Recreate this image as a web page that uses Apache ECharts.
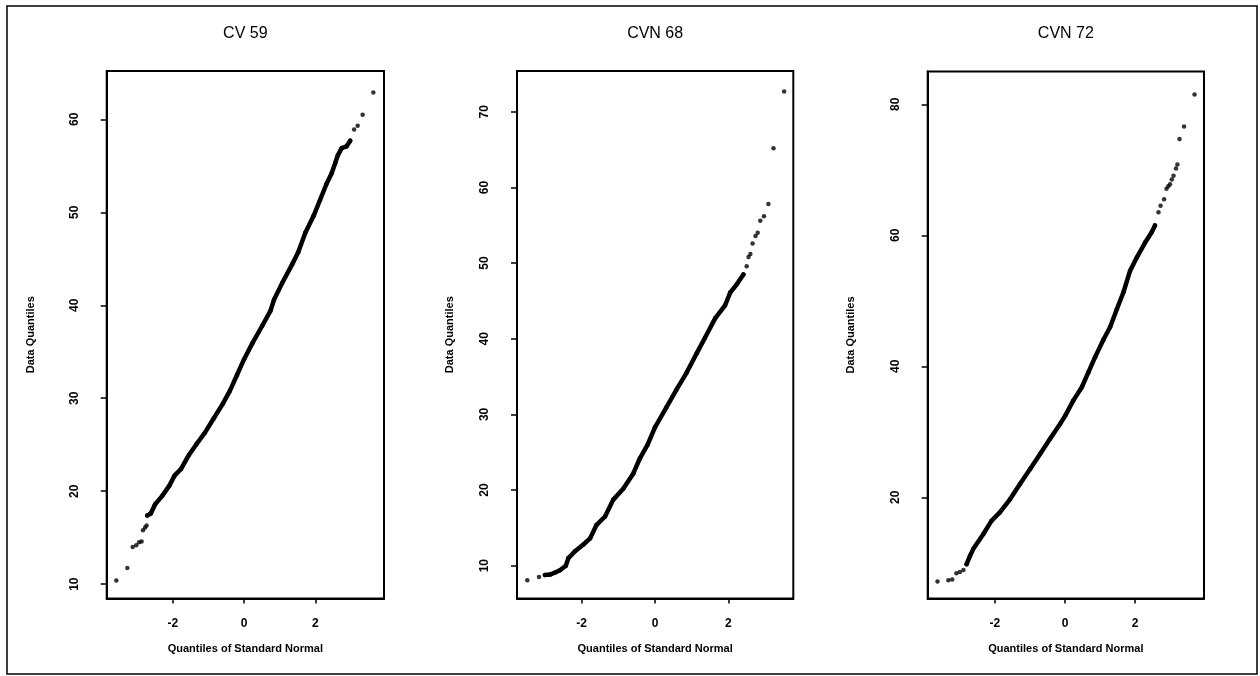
<!DOCTYPE html>
<html><head><meta charset="utf-8">
<script src="https://cdn.jsdelivr.net/npm/echarts@6/dist/echarts.min.js"></script>
<style>html,body{margin:0;padding:0;background:#fff}#c{width:1260px;height:676px}</style>
</head><body><div id="c"></div>
<script>
// ---- data ----
const titles = ['CV 59', 'CVN 68', 'CVN 72'];
const xName = 'Quantiles of Standard Normal';
const yName = 'Data Quantiles';
const xTicks = [-2, 0, 2];
const yTicks1 = [10, 20, 30, 40, 50, 60];
const yTicks2 = [10, 20, 30, 40, 50, 60, 70];
const yTicks3 = [20, 40, 60, 80];

// CV 59
const lowTail1 = [[-3.59,10.4],[-3.28,11.75],[-3.13,14.0],[-3.03,14.2],[-2.95,14.5],[-2.88,14.6],[-2.84,15.8],[-2.78,16.1],[-2.74,16.3]];
const body1 = [[-2.72,17.4],[-2.62,17.6],[-2.50,18.6],[-2.30,19.5],[-2.10,20.6],[-1.95,21.7],[-1.77,22.4],[-1.55,23.9],[-1.33,25.1],[-1.10,26.3],[-0.86,27.8],[-0.60,29.4],[-0.40,30.8],[-0.20,32.5],[0.00,34.2],[0.23,35.9],[0.51,37.8],[0.74,39.4],[0.84,40.6],[1.07,42.4],[1.35,44.4],[1.52,45.7],[1.72,47.8],[1.95,49.6],[2.13,51.3],[2.32,53.1],[2.46,54.2],[2.56,55.3],[2.63,56.1],[2.74,56.9],[2.88,57.1],[2.98,57.7]];
const highTail1 = [[3.09,58.9],[3.19,59.3],[3.33,60.5],[3.63,62.9]];

// CVN 68
const lowTail2 = [[-3.48,8.07],[-3.16,8.5]];
const body2 = [[-3.00,8.78],[-2.86,8.82],[-2.72,9.1],[-2.59,9.4],[-2.43,10.0],[-2.36,11.0],[-2.18,11.9],[-1.95,12.8],[-1.77,13.6],[-1.59,15.4],[-1.36,16.5],[-1.14,18.7],[-0.86,20.2],[-0.59,22.2],[-0.41,24.2],[-0.20,26.0],[0.00,28.3],[0.32,31.0],[0.59,33.3],[0.86,35.5],[1.14,38.1],[1.36,40.1],[1.64,42.7],[1.91,44.4],[2.05,46.1],[2.23,47.2],[2.41,48.5]];
const highTail2 = [[2.50,49.6],[2.55,50.8],[2.60,51.2],[2.66,52.6],[2.74,53.6],[2.80,54.0],[2.87,55.6],[2.97,56.2],[3.09,57.8],[3.23,65.2],[3.52,72.7]];

// CVN 72
const lowTail3 = [[-3.64,7.15],[-3.33,7.34],[-3.22,7.45],[-3.10,8.4],[-3.00,8.6],[-2.90,8.9]];
const body3 = [[-2.81,9.8],[-2.71,11.1],[-2.62,12.1],[-2.33,14.4],[-2.10,16.4],[-1.86,17.7],[-1.57,19.7],[-1.29,22.0],[-1.00,24.3],[-0.71,26.6],[-0.43,28.9],[-0.14,31.2],[0.00,32.4],[0.24,34.8],[0.48,36.8],[0.67,39.1],[0.86,41.4],[1.10,44.1],[1.29,46.0],[1.48,48.7],[1.67,51.3],[1.86,54.6],[2.05,56.6],[2.29,58.9],[2.48,60.5],[2.57,61.5]];
const highTail3 = [[2.67,63.5],[2.73,64.5],[2.83,65.5],[2.90,67.1],[2.95,67.5],[3.00,67.8],[3.05,68.5],[3.10,69.1],[3.17,70.2],[3.21,70.8],[3.27,74.7],[3.40,76.6],[3.70,81.5]];

// ---- layout ----
const FONT = '"Liberation Sans", Arial, sans-serif';
const ink = '#000';
const panels = [
  {left:106.7, top:71,   width:277.3, height:527.5, xr:[-3.86,3.93], yr:[8.46,65.2], yTicks:yTicks1, nameGap:70, low:lowTail1, body:body1, high:highTail1},
  {left:517,   top:71,   width:276.3, height:527.5, xr:[-3.76,3.77], yr:[5.66,75.4], yTicks:yTicks2, nameGap:62, low:lowTail2, body:body2, high:highTail2},
  {left:927.7, top:71.5, width:276.3, height:527,   xr:[-3.92,3.97], yr:[4.56,85.0], yTicks:yTicks3, nameGap:71, low:lowTail3, body:body3, high:highTail3}
];

const grid = [], xAxis = [], yAxis = [], series = [], title = [];
panels.forEach((p, i) => {
  grid.push({left:p.left, top:p.top, width:p.width, height:p.height, show:true, borderColor:ink, borderWidth:2, backgroundColor:'transparent'});
  title.push({text:titles[i], left:p.left + p.width/2, top:26, textAlign:'center', padding:0,
    textStyle:{fontFamily:FONT, fontSize:16, fontWeight:'normal', color:ink}});
  xAxis.push({gridIndex:i, type:'value', min:p.xr[0], max:p.xr[1],
    axisLine:{show:true, onZero:false, lineStyle:{color:ink, width:2}},
    axisTick:{show:true, customValues:xTicks, length:5, lineStyle:{color:ink, width:1.5}},
    axisLabel:{customValues:xTicks, margin:19, fontFamily:FONT, fontSize:12, fontWeight:'bold', color:ink},
    splitLine:{show:false},
    name:xName, nameLocation:'middle', nameGap:45,
    nameTextStyle:{fontFamily:FONT, fontSize:11, fontWeight:'bold', color:ink}});
  yAxis.push({gridIndex:i, type:'value', min:p.yr[0], max:p.yr[1],
    axisLine:{show:true, onZero:false, lineStyle:{color:ink, width:2}},
    axisTick:{show:true, customValues:p.yTicks, length:6, lineStyle:{color:ink, width:1.5}},
    axisLabel:{customValues:p.yTicks, rotate:90, margin:26, fontFamily:FONT, fontSize:12, fontWeight:'bold', color:ink},
    splitLine:{show:false},
    name:yName, nameLocation:'middle', nameGap:p.nameGap,
    nameTextStyle:{fontFamily:FONT, fontSize:11, fontWeight:'bold', color:ink}});
  series.push({type:'line', xAxisIndex:i, yAxisIndex:i, data:p.body, showSymbol:true, symbol:'circle', symbolSize:4.5,
    itemStyle:{color:ink}, lineStyle:{color:ink, width:4.5, cap:'round', join:'round'}, smooth:false, silent:true, z:3});
  series.push({type:'scatter', xAxisIndex:i, yAxisIndex:i, data:p.low.concat(p.high), symbol:'circle', symbolSize:4.5,
    itemStyle:{color:ink}, silent:true, z:3});
});

const chart = echarts.init(document.getElementById('c'), null, {renderer:'canvas'});
chart.setOption({
  animation:false,
  backgroundColor:'#fff',
  title, grid, xAxis, yAxis, series,
  graphic:[{type:'rect', shape:{x:7, y:6, width:1250, height:668}, style:{fill:'none', stroke:ink, lineWidth:1.5}, silent:true}]
});
</script></body></html>
